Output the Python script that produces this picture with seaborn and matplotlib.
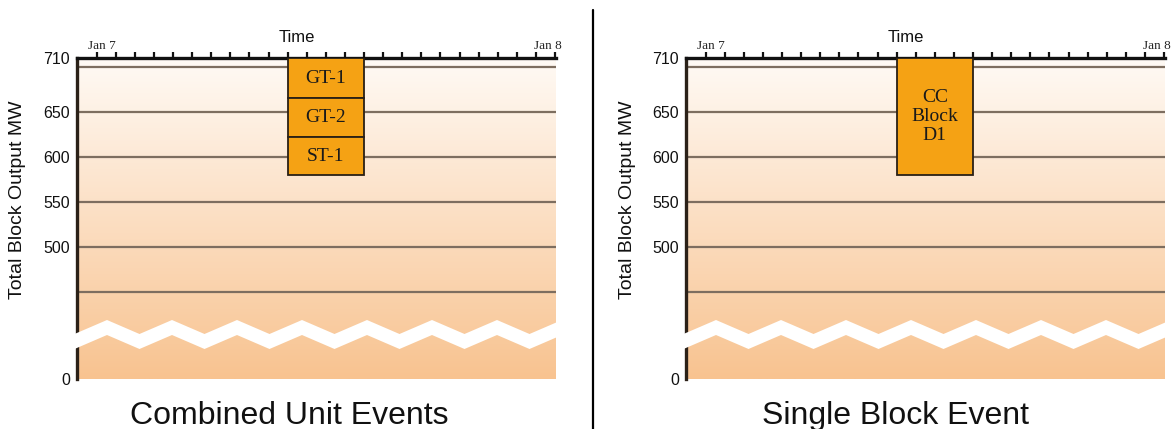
import numpy as np
import matplotlib
matplotlib.use("Agg")
import matplotlib.pyplot as plt
import matplotlib.transforms as mtransforms
from matplotlib.lines import Line2D
from matplotlib.patches import Polygon
from matplotlib.colors import to_rgb
import seaborn as sns

# ---------------- data ----------------
panel_titles = ["Combined Unit Events", "Single Block Event"]
capacity_mw = 710
event_start_hour = 10
event_end_hour = 14
unit_names = ["GT-1", "GT-2", "ST-1"]
unit_outputs_mw = [45, 43, 42]
block_names = ["CC\nBlock\nD1"]
block_outputs_mw = [130]
ytick_values = [0, 500, 550, 600, 650, 710]
ytick_labels = ["0", "500", "550", "600", "650", "710"]
grid_levels = [450, 500, 550, 600, 650, 700]
date_ticks = [0, 24]
date_labels = ["Jan 7", "Jan 8"]
hour_ticks = list(range(0, 25))

# ---------------- style ----------------
sns.set_theme(style="white")
plt.rcParams["font.family"] = ["Liberation Sans", "DejaVu Sans"]

BAR_COLOR = "#f5a214"
GRID_COLOR = "#7d6e60"
TOP_COLOR = "#fffaf5"
BOT_COLOR = "#f8c390"

# broken y scale: values below BREAK are compressed
BREAK = 420.0
Y0 = 353.3


def fwd(y):
    y = np.asarray(y, dtype=float)
    return np.where(y >= BREAK, y, Y0 + y * (BREAK - Y0) / BREAK)


def inv(s):
    s = np.asarray(s, dtype=float)
    return np.where(s >= BREAK, s, (s - Y0) * BREAK / (BREAK - Y0))


fig = plt.figure(figsize=(11.76, 4.29), dpi=100)

W, H = 1176.0, 429.0
panels = [
    dict(left=77, right=556, names=unit_names, outputs=unit_outputs_mw, title_x=289),
    dict(left=686, right=1165, names=block_names, outputs=block_outputs_mw, title_x=896),
]
top_px, bot_px = 58, 379

grad = np.linspace(0, 1, 256)[:, None]
c0 = np.array(to_rgb(TOP_COLOR))
c1 = np.array(to_rgb(BOT_COLOR))
grad_img = (c0[None, None, :] * (1 - grad[..., None]) + c1[None, None, :] * grad[..., None])

for i, p in enumerate(panels):
    ax = fig.add_axes([p["left"] / W, 1 - bot_px / H, (p["right"] - p["left"]) / W,
                       (bot_px - top_px) / H])
    ax.set_yscale("function", functions=(fwd, inv))
    ax.set_ylim(0, capacity_mw)
    ax.set_xlim(-1.03, 24.05)
    ax.set_facecolor("none")

    # background gradient
    ax.imshow(grad_img, extent=[0, 1, 0, 1], transform=ax.transAxes,
              aspect="auto", origin="upper", zorder=0)

    # grid lines
    ax.hlines(grid_levels, -1.03, 24.05, color=GRID_COLOR, lw=1.6, zorder=1)

    # stacked event bars hanging from capacity
    tops = capacity_mw - np.concatenate([[0], np.cumsum(p["outputs"])[:-1]])
    width = event_end_hour - event_start_hour
    center = (event_start_hour + event_end_hour) / 2
    ax.bar([center] * len(p["outputs"]), p["outputs"], width=width,
           bottom=tops - np.array(p["outputs"]), color=BAR_COLOR,
           edgecolor="#2a2015", linewidth=1.3, zorder=3)
    for name, top, out in zip(p["names"], tops, p["outputs"]):
        ax.text(center, top - out / 2, name, ha="center", va="center",
                family=["Liberation Serif", "DejaVu Serif"], fontsize=14,
                color="#1a1a1a", zorder=4, linespacing=1.15)

    # axes styling
    for s in ["bottom", "right"]:
        ax.spines[s].set_visible(False)
    ax.spines["left"].set_color("#2b2118")
    ax.spines["left"].set_linewidth(2.4)
    ax.spines["top"].set_color("#111111")
    ax.spines["top"].set_linewidth(2.4)

    ax.set_yticks(ytick_values)
    ax.set_yticklabels(ytick_labels)
    ax.tick_params(axis="y", length=0, pad=5, labelsize=11.5, colors="#111111")

    ax.xaxis.tick_top()
    ax.set_xticks(hour_ticks, minor=True)
    ax.set_xticks(date_ticks)
    ax.set_xticklabels(date_labels)
    ax.tick_params(axis="x", which="both", direction="out", length=4, width=1.6,
                   color="#111111", top=True, bottom=False, pad=0,
                   labelsize=9.5)
    for lab in ax.get_xticklabels():
        lab.set_family(["Liberation Serif", "DejaVu Serif"])
    labs = ax.get_xticklabels()
    labs[0].set_transform(labs[0].get_transform() +
                          mtransforms.ScaledTranslation(5 / 100, 0, fig.dpi_scale_trans))
    labs[1].set_transform(labs[1].get_transform() +
                          mtransforms.ScaledTranslation(-7 / 100, 0, fig.dpi_scale_trans))

    # zigzag axis break (white band)
    wpx = p["right"] - p["left"]
    hpx = bot_px - top_px
    period = 65.0 / wpx
    first_peak = 30.0 / wpx
    pts_x = []
    x = first_peak - period / 2 - period
    while x < 1 + period:
        pts_x.append(x)
        x += period / 2
    pts_x = np.array(pts_x)
    phase = ((pts_x - first_peak) / period) % 1
    peaks = np.isclose(phase, 0) | np.isclose(phase, 1)
    top_edge = np.where(peaks, (bot_px - 320) / hpx, (bot_px - 334) / hpx)
    bot_edge = np.where(peaks, (bot_px - 335) / hpx, (bot_px - 349) / hpx)
    xx = np.concatenate([[-0.012], pts_x[(pts_x > -0.012) & (pts_x < 1)], [1.0]])
    te = np.interp(xx, pts_x, top_edge)
    be = np.interp(xx, pts_x, bot_edge)
    poly = np.vstack([np.column_stack([xx, te]), np.column_stack([xx[::-1], be[::-1]])])
    ax.add_patch(Polygon(poly, closed=True, facecolor="white", edgecolor="none",
                         transform=ax.transAxes, zorder=5, clip_on=False))

    # "Time" label above axis
    trans = mtransforms.blended_transform_factory(ax.transData, ax.transAxes)
    ax.text(10.5, 1 + 21 / hpx, "Time", transform=trans, ha="center", va="center",
            fontsize=12, color="#111111")

    # y label
    fig.text((p["left"] - 59) / W, 1 - 200 / H, "Total Block Output MW", rotation=90,
             ha="center", va="center", fontsize=14, color="#111111")

    # panel title
    fig.text(p["title_x"] / W, 5 / H, panel_titles[i], ha="center", va="baseline",
             fontsize=23, color="#111111")

# vertical divider
fig.add_artist(Line2D([593 / W, 593 / W], [0, 1 - 10 / H], color="black", lw=1.6))

fig.savefig("out.png", dpi=100)
